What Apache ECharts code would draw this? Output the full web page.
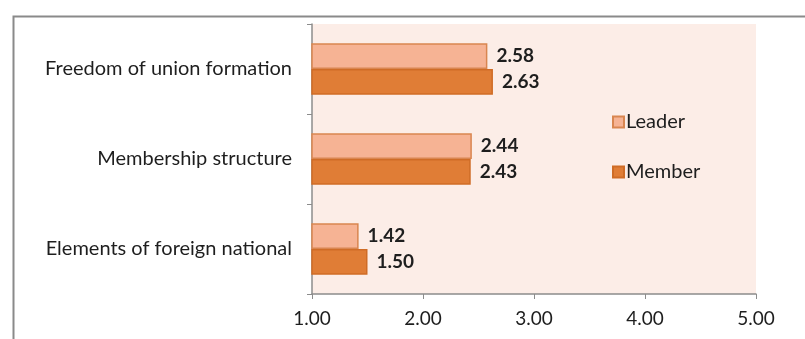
<!DOCTYPE html>
<html>
<head>
<meta charset="utf-8">
<script src="https://cdn.jsdelivr.net/npm/echarts@6/dist/echarts.min.js"></script>
<style>
  html, body { margin: 0; padding: 0; background: #ffffff; }
  #chart { width: 805px; height: 339px; }
</style>
</head>
<body>
<div id="chart"></div>
<script>
// Categories listed bottom-to-top (ECharts draws category y-axes from the bottom)
const categories = ['Elements of foreign national', 'Membership structure', 'Freedom of union formation'];
const leaderValues = [1.42, 2.44, 2.58];
const memberValues = [1.50, 2.43, 2.63];
const xTicks = [1, 2, 3, 4, 5];

const FONT = 'Lato';
const INK = '#1e1e1e';

const chart = echarts.init(document.getElementById('chart'), null, { renderer: 'canvas' });

const labelStyle = {
  show: true,
  position: 'right',
  distance: 9,
  color: INK,
  fontFamily: FONT,
  fontSize: 19,
  fontWeight: 'bold',
  formatter: p => p.value.toFixed(2)
};

chart.setOption({
  animation: false,
  backgroundColor: '#ffffff',
  textStyle: { fontFamily: FONT },
  graphic: [{
    type: 'rect',
    left: 11, top: 14,
    shape: { width: 820, height: 340 },
    style: { fill: 'none', stroke: '#8a8a8a', lineWidth: 2 },
    silent: true, z: 0
  }],
  grid: {
    left: 312, right: 49, top: 24, bottom: 45,
    show: true, backgroundColor: '#fcede7', borderWidth: 0
  },
  legend: {
    orient: 'vertical',
    left: 607, top: 107,
    itemGap: 30,
    itemWidth: 11, itemHeight: 11,
    icon: 'rect',
    textStyle: { fontFamily: FONT, fontSize: 20, color: INK, padding: [0, 0, 0, -3] },
    data: ['Leader', 'Member']
  },
  xAxis: {
    type: 'value',
    min: xTicks[0], max: xTicks[xTicks.length - 1], interval: 1,
    axisLine: { show: true, lineStyle: { color: '#8c8c8c', width: 1.5 } },
    axisTick: { show: true, length: 5, lineStyle: { color: '#8c8c8c' } },
    splitLine: { show: false },
    axisLabel: {
      color: INK, fontFamily: FONT, fontSize: 19, margin: 15,
      formatter: v => v.toFixed(2)
    }
  },
  yAxis: {
    type: 'category',
    data: categories,
    axisLine: { show: true, lineStyle: { color: '#8c8c8c', width: 1.5 } },
    axisTick: { show: true, length: 5, lineStyle: { color: '#8c8c8c' } },
    axisLabel: { color: INK, fontFamily: FONT, fontSize: 20, margin: 20 }
  },
  series: [
    {
      name: 'Leader', type: 'bar',
      data: leaderValues,
      barGap: '0%', barCategoryGap: '43%',
      itemStyle: { color: '#f6b394', borderColor: '#d98650', borderWidth: 1.5 },
      label: labelStyle
    },
    {
      name: 'Member', type: 'bar',
      data: memberValues,
      barGap: '0%', barCategoryGap: '43%',
      itemStyle: { color: '#e07d36', borderColor: '#cf6c26', borderWidth: 1.5 },
      label: labelStyle
    }
  ]
});
</script>
</body>
</html>
